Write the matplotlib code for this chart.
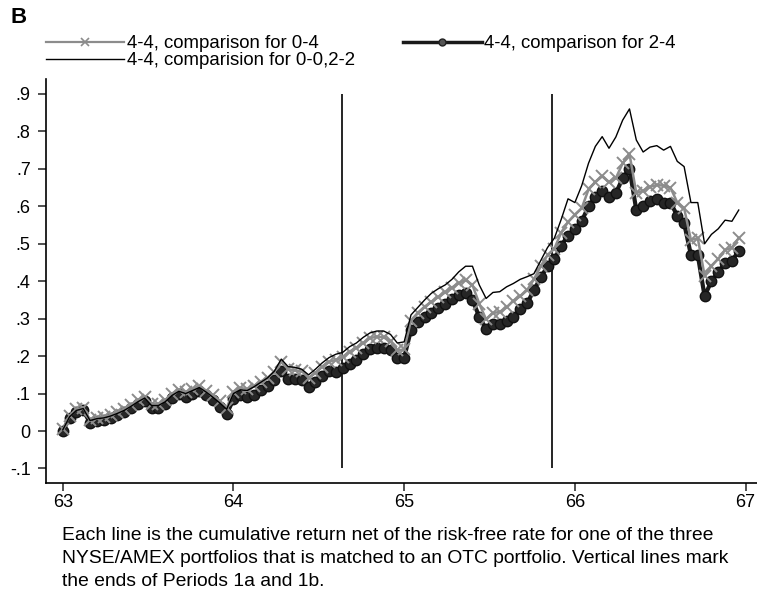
#!/usr/bin/env python3

import matplotlib.pyplot as plt
import numpy as np
from matplotlib.lines import Line2D

plt.rcParams["font.family"] = ["Liberation Sans", "DejaVu Sans"]

# dates in years (63 = 1963), sampled every 0.04 yr
dates = np.round(np.arange(63.0, 66.97, 0.04), 2)

# 4-4, comparison for 0-4 (grey, x markers)
ret_0_4 = [
    0.005, 0.040, 0.058, 0.062, 0.030, 0.035, 0.038, 0.043, 0.050, 0.058,
    0.070, 0.082, 0.092, 0.072, 0.072, 0.082, 0.100, 0.110, 0.104, 0.112,
    0.120, 0.108, 0.095, 0.080, 0.062, 0.105, 0.115, 0.112, 0.120, 0.132,
    0.142, 0.158, 0.185, 0.165, 0.162, 0.160, 0.142, 0.155, 0.172, 0.185,
    0.190, 0.198, 0.212, 0.222, 0.235, 0.248, 0.252, 0.250, 0.240, 0.215,
    0.218, 0.295, 0.316, 0.332, 0.345, 0.358, 0.370, 0.383, 0.395, 0.403,
    0.390, 0.340, 0.298, 0.315, 0.318, 0.330, 0.348, 0.360, 0.376, 0.405,
    0.440, 0.470, 0.487, 0.530, 0.558, 0.578, 0.595, 0.645, 0.665, 0.680,
    0.665, 0.675, 0.715, 0.740, 0.635, 0.642, 0.652, 0.657, 0.655, 0.650,
    0.610, 0.595, 0.510, 0.515, 0.415, 0.440, 0.460, 0.483, 0.490, 0.515,
]

# 4-4, comparison for 2-4 (black, circles)
ret_2_4 = [
    0.000, 0.035, 0.050, 0.055, 0.022, 0.028, 0.030, 0.035, 0.042, 0.050,
    0.062, 0.072, 0.080, 0.062, 0.062, 0.072, 0.088, 0.100, 0.092, 0.100,
    0.108, 0.095, 0.082, 0.065, 0.045, 0.085, 0.095, 0.090, 0.097, 0.110,
    0.120, 0.135, 0.160, 0.140, 0.138, 0.135, 0.118, 0.130, 0.148, 0.160,
    0.158, 0.168, 0.180, 0.190, 0.205, 0.218, 0.222, 0.222, 0.215, 0.194,
    0.196, 0.270, 0.290, 0.305, 0.316, 0.328, 0.338, 0.352, 0.362, 0.368,
    0.350, 0.305, 0.272, 0.285, 0.285, 0.295, 0.305, 0.325, 0.341, 0.376,
    0.410, 0.440, 0.458, 0.495, 0.522, 0.540, 0.560, 0.600, 0.625, 0.640,
    0.625, 0.635, 0.675, 0.700, 0.590, 0.600, 0.615, 0.620, 0.610, 0.610,
    0.575, 0.555, 0.470, 0.470, 0.360, 0.400, 0.425, 0.448, 0.455, 0.480,
]

# 4-4, comparision for 0-0,2-2 (thin black line)
ret_00_22 = [
    0.003, 0.038, 0.055, 0.060, 0.028, 0.033, 0.035, 0.040, 0.047, 0.055,
    0.066, 0.078, 0.088, 0.068, 0.068, 0.078, 0.095, 0.106, 0.100, 0.108,
    0.116, 0.104, 0.090, 0.075, 0.058, 0.100, 0.110, 0.108, 0.118, 0.130,
    0.142, 0.160, 0.192, 0.172, 0.170, 0.165, 0.150, 0.165, 0.182, 0.196,
    0.205, 0.210, 0.225, 0.235, 0.250, 0.262, 0.267, 0.267, 0.258, 0.235,
    0.238, 0.310, 0.330, 0.350, 0.368, 0.380, 0.390, 0.405, 0.425, 0.440,
    0.440, 0.390, 0.354, 0.370, 0.372, 0.385, 0.394, 0.405, 0.412, 0.420,
    0.455, 0.490, 0.515, 0.565, 0.620, 0.610, 0.655, 0.715, 0.760, 0.786,
    0.755, 0.785, 0.830, 0.860, 0.777, 0.745, 0.758, 0.762, 0.750, 0.760,
    0.720, 0.706, 0.610, 0.610, 0.500, 0.525, 0.540, 0.563, 0.560, 0.590,
]

period_ends = [64.634, 65.865]

xticks = [63, 64, 65, 66, 67]
yticks = [0.9, 0.8, 0.7, 0.6, 0.5, 0.4, 0.3, 0.2, 0.1, 0.0, -0.1]
ytick_labels = [".9", ".8", ".7", ".6", ".5", ".4", ".3", ".2", ".1", "0", "-.1"]

labels = [
    "4-4, comparison for 0-4",
    "4-4, comparison for 2-4",
    "4-4, comparision for 0-0,2-2",
]

caption = ("Each line is the cumulative return net of the risk-free rate for one of the three\n"
           "NYSE/AMEX portfolios that is matched to an OTC portfolio. Vertical lines mark\n"
           "the ends of Periods 1a and 1b.")

fig = plt.figure(figsize=(7.57, 5.92), dpi=100)
ax = fig.add_axes([0.0608, 0.184, 0.9392, 0.6826])

ln_b, = ax.plot(dates, ret_2_4, color="#1a1a1a", lw=3.0, marker="o", ms=7.5,
                mfc="#262626", mec="#111111", zorder=2)
ln_g, = ax.plot(dates, ret_0_4, color="#8c8c8c", lw=1.8, marker="x", ms=8,
                mew=1.4, zorder=3)
ln_t, = ax.plot(dates, ret_00_22, color="black", lw=1.0, zorder=4)

ax.vlines(period_ends, -0.1, 0.9, color="black", lw=1.2, zorder=1)

ax.set_xlim(62.902, 67.067)
ax.set_ylim(-0.139, 0.94)
ax.set_xticks(xticks)
ax.set_yticks(yticks)
ax.set_yticklabels(ytick_labels)
ax.tick_params(axis="both", labelsize=13, length=6, width=1.1, color="#222222")
ax.tick_params(axis="y", pad=5)
ax.tick_params(axis="x", pad=2)
ax.spines["top"].set_visible(False)
ax.spines["right"].set_visible(False)
ax.spines["left"].set_linewidth(1.2)
ax.spines["bottom"].set_linewidth(1.2)

# legend handles: small markers like the original key
h_g = Line2D([0], [0], color="#8c8c8c", lw=1.6, marker="x", ms=6, mew=1.2)
h_b = Line2D([0], [0], color="#1a1a1a", lw=2.5, marker="o", ms=5, mfc="#555555", mec="#222222")
h_t = Line2D([0], [0], color="black", lw=1.0)
fig.legend([h_g, h_t, h_b], [labels[0], labels[2], labels[1]], ncol=2,
           loc="upper left", bbox_to_anchor=(46 / 757, 1 - 35 / 592),
           frameon=False, fontsize=13.4, handlelength=4.2, handletextpad=0.15,
           columnspacing=2.6, labelspacing=0.02, borderpad=0, borderaxespad=0)

fig.text(10 / 757, 1 - 7 / 592, "B", fontsize=16, fontweight="bold", va="top")
fig.text(62 / 757, 1 - 527 / 592, caption, fontsize=13.9, va="top", linespacing=1.45)

fig.savefig("out.png", dpi=100)
